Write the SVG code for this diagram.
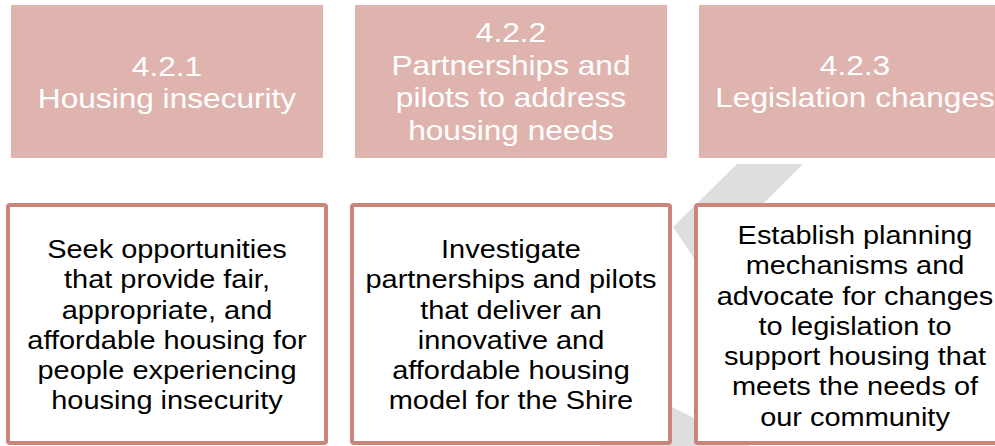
<svg xmlns="http://www.w3.org/2000/svg" width="995" height="446" viewBox="0 0 995 446">
<style>
.head{fill:#DFB4AE;}
.hd{font-family:"Liberation Sans",Arial,sans-serif;font-size:28px;fill:#FFFFFF;text-anchor:middle;}
.box{fill:#FFFFFF;stroke:#C9857C;stroke-width:4;}
.bd{font-family:"Liberation Sans",Arial,sans-serif;font-size:25.5px;fill:#000000;text-anchor:middle;}
.bg{fill:#DEDEDE;}
</style>
<rect width="995" height="446" fill="#FFFFFF"/>
<g id="connectors">
<polygon class="bg" points="737,164 803,164 740,227 790,300 722,300 673,227"/>
<polygon class="bg" points="600,371 800,471 600,471"/>
</g>
<g id="h1">
<rect class="head" x="11" y="5" width="312" height="153"/>
<g transform="translate(167,0) scale(1.13,1)"><text class="hd" x="0" y="76">4.2.1</text><text class="hd" x="0" y="108">Housing insecurity</text></g>
</g>
<g id="h2">
<rect class="head" x="355" y="5" width="312" height="153"/>
<g transform="translate(511,0) scale(1.13,1)"><text class="hd" x="0" y="42">4.2.2</text><text class="hd" x="0" y="75">Partnerships and</text><text class="hd" x="0" y="107.5">pilots to address</text><text class="hd" x="0" y="140">housing needs</text></g>
</g>
<g id="h3">
<rect class="head" x="699" y="5" width="312" height="153"/>
<g transform="translate(855,0) scale(1.13,1)"><text class="hd" x="0" y="75">4.2.3</text><text class="hd" x="0" y="107.5">Legislation changes</text></g>
</g>
<g id="b1">
<rect class="box" x="8" y="205" width="318" height="238" rx="2"/>
<g transform="translate(167,0) scale(1.135,1)">
<text class="bd" x="0" y="258">Seek opportunities</text>
<text class="bd" x="0" y="288.3">that provide fair,</text>
<text class="bd" x="0" y="318.6">appropriate, and</text>
<text class="bd" x="0" y="348.9">affordable housing for</text>
<text class="bd" x="0" y="379.2">people experiencing</text>
<text class="bd" x="0" y="409.5">housing insecurity</text>
</g>
</g>
<g id="b2">
<rect class="box" x="352" y="205" width="318" height="238" rx="2"/>
<g transform="translate(511,0) scale(1.135,1)">
<text class="bd" x="0" y="258">Investigate</text>
<text class="bd" x="0" y="288.3">partnerships and pilots</text>
<text class="bd" x="0" y="318.6">that deliver an</text>
<text class="bd" x="0" y="348.9">innovative and</text>
<text class="bd" x="0" y="379.2">affordable housing</text>
<text class="bd" x="0" y="409.5">model for the Shire</text>
</g>
</g>
<g id="b3">
<rect class="box" x="696" y="205" width="318" height="238" rx="2"/>
<g transform="translate(855,0) scale(1.135,1)">
<text class="bd" x="0" y="244">Establish planning</text>
<text class="bd" x="0" y="274.3">mechanisms and</text>
<text class="bd" x="0" y="304.6">advocate for changes</text>
<text class="bd" x="0" y="334.9">to legislation to</text>
<text class="bd" x="0" y="365.2">support housing that</text>
<text class="bd" x="0" y="395.5">meets the needs of</text>
<text class="bd" x="0" y="425.8">our community</text>
</g>
</g>
</svg>
